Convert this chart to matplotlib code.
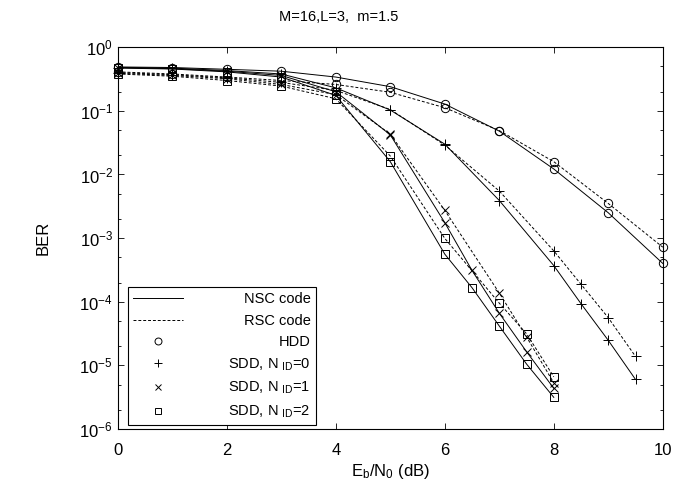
import numpy as np
import matplotlib
matplotlib.use("Agg")
import matplotlib.pyplot as plt
from matplotlib.lines import Line2D
from matplotlib.offsetbox import DrawingArea
from matplotlib.ticker import LogLocator, NullFormatter, FixedLocator

plt.rcParams['font.family'] = ['Liberation Sans', 'DejaVu Sans']
plt.rcParams['mathtext.fontset'] = 'custom'
plt.rcParams['mathtext.rm'] = 'Liberation Sans'
plt.rcParams['mathtext.it'] = 'Liberation Sans:italic'
plt.rcParams['font.size'] = 10.5

# Eb/N0 grids (dB)
x_hdd = [0, 1, 2, 3, 4, 5, 6, 7, 8, 9, 10]
x_n0 = [0, 1, 2, 3, 4, 5, 6, 7, 8, 8.5, 9, 9.5]
x_nsc = [0, 1, 2, 3, 4, 5, 6, 6.5, 7, 7.5, 8]
x_rsc = [0, 1, 2, 3, 4, 5, 6, 7, 7.5, 8]

# BER
hdd_nsc = [0.49, 0.48, 0.45, 0.42, 0.34, 0.24, 0.128, 0.048, 0.0122, 0.0025, 4.0e-4]
hdd_rsc = [0.41, 0.38, 0.34, 0.30, 0.26, 0.196, 0.112, 0.049, 0.0159, 0.0035, 7.2e-4]
n0_nsc = [0.48, 0.47, 0.43, 0.38, 0.23, 0.103, 0.030, 0.0039, 3.7e-4, 9.3e-5, 2.47e-5, 6.0e-6]
n0_rsc = [0.40, 0.37, 0.33, 0.28, 0.21, 0.105, 0.029, 0.0055, 6.3e-4, 1.88e-4, 5.6e-5, 1.38e-5]
n1_nsc = [0.48, 0.46, 0.42, 0.36, 0.20, 0.042, 0.00175, 3.1e-4, 6.6e-5, 1.64e-5, 4.35e-6]
n1_rsc = [0.39, 0.36, 0.32, 0.26, 0.18, 0.043, 0.00273, 1.37e-4, 2.8e-5, 5.3e-6]
n2_nsc = [0.47, 0.455, 0.41, 0.34, 0.175, 0.0159, 5.6e-4, 1.66e-4, 4.15e-5, 1.05e-5, 3.14e-6]
n2_rsc = [0.38, 0.35, 0.30, 0.245, 0.155, 0.0195, 9.9e-4, 9.5e-5, 3.14e-5, 6.6e-6]

yticks = [1e-6, 1e-5, 1e-4, 1e-3, 1e-2, 1e-1, 1]

dash = (0, (3, 2))
lw = 0.7

fig = plt.figure(figsize=(6.77, 4.82), dpi=100)
ax = fig.add_axes([0.174, 0.110, 0.805, 0.792])

series = [
    (x_hdd, hdd_nsc, '-', 'o', 6), (x_hdd, hdd_rsc, dash, 'o', 6),
    (x_n0, n0_nsc, '-', '+', 7), (x_n0, n0_rsc, dash, '+', 7),
    (x_nsc, n1_nsc, '-', 'x', 6), (x_rsc, n1_rsc, dash, 'x', 6),
    (x_nsc, n2_nsc, '-', 's', 5.5), (x_rsc, n2_rsc, dash, 's', 5.5),
]
for xs, ys, ls, mk, ms in series:
    ax.semilogy(xs, ys, color='k', lw=lw, linestyle=ls, marker=mk, ms=ms,
                mfc='none', mec='k', mew=0.7, clip_on=False)

ax.set_xlim(0, 10)
ax.set_ylim(1e-6, 1)
ax.set_xticks([0, 2, 4, 6, 8, 10])
ax.yaxis.set_major_locator(FixedLocator(yticks))
minor = [m * t for t in yticks[:-1] for m in (2, 5)]
ax.yaxis.set_minor_locator(FixedLocator(minor))
ax.yaxis.set_minor_formatter(NullFormatter())
ax.tick_params(which='both', direction='in', top=True, right=True, width=0.6,
               labelsize=12)
ax.tick_params(axis='x', pad=10)
ax.tick_params(which='major', length=4)
ax.tick_params(which='minor', length=2.5)
for s in ax.spines.values():
    s.set_linewidth(0.8)

fig.suptitle('M=16,L=3,  m=1.5', x=0.5, y=1 - 17 / 482, va='center', fontsize=10.5)
ax.set_xlabel(r'$\mathregular{E_b/N_0}$ (dB)', labelpad=3, fontsize=12)
ax.set_ylabel('BER', labelpad=21, fontsize=12)

handles = [
    Line2D([], [], color='k', lw=lw, ls='-'),
    Line2D([], [], color='k', lw=lw, ls=dash),
    Line2D([], [], ls='none', marker='o', ms=5, mfc='none', mec='k', mew=0.7),
    Line2D([], [], ls='none', marker='+', ms=6, mec='k', mew=0.7),
    Line2D([], [], ls='none', marker='x', ms=5, mec='k', mew=0.7),
    Line2D([], [], ls='none', marker='s', ms=5, mfc='none', mec='k', mew=0.7),
]
labels = ['NSC code', 'RSC code', 'HDD',
          r'SDD, N $\mathregular{_{ID}}$=0', r'SDD, N $\mathregular{_{ID}}$=1',
          r'SDD, N $\mathregular{_{ID}}$=2']
leg = ax.legend(handles, labels, loc='lower left', bbox_to_anchor=(0.019, 0.01),
                borderaxespad=0, fancybox=False, framealpha=1, edgecolor='k',
                handlelength=3.4, handletextpad=3.1, labelspacing=0.5,
                borderpad=0.35, fontsize=10.5)
leg.get_frame().set_linewidth(0.8)

# right-align legend text like the original
fig.canvas.draw()
r = fig.canvas.get_renderer()
widths = [t.get_window_extent(r).width for t in leg.get_texts()]
wmax = max(widths)
rows = [row for col in leg._legend_handle_box.get_children() for row in col.get_children()]
for row, w in zip(rows, widths):
    hb, tb = row.get_children()
    row._children = [hb, DrawingArea((wmax - w) * 72 / fig.dpi, 0), tb]
    row.sep = row.sep / 2

fig.savefig('out.png', dpi=100)
